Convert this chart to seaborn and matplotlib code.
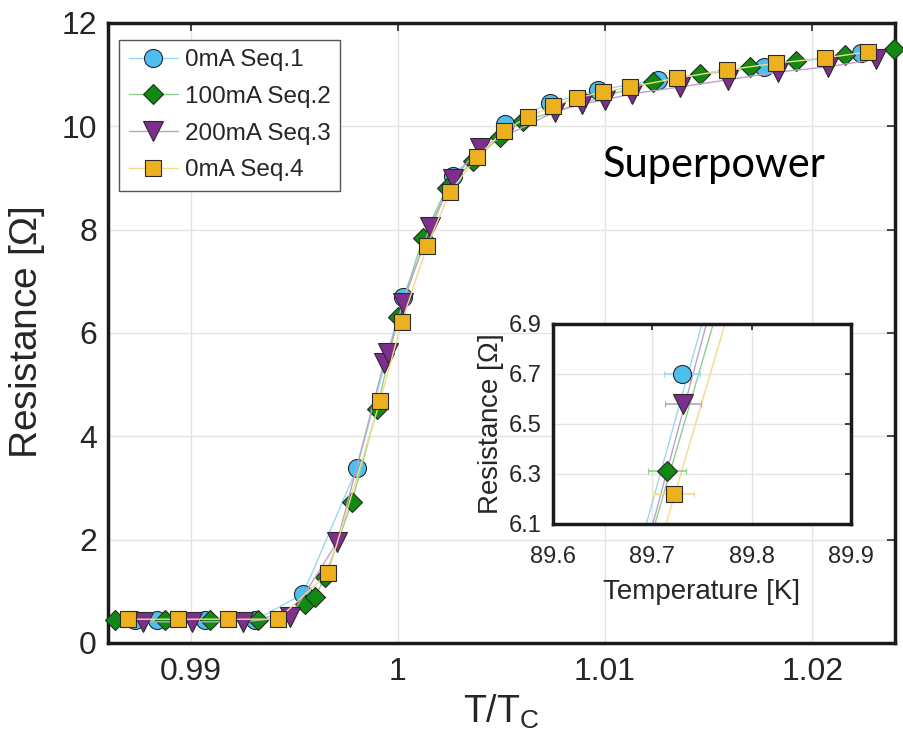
import numpy as np
import pandas as pd
import matplotlib
matplotlib.use('Agg')
import matplotlib.pyplot as plt
import seaborn as sns

# main panel: normalised temperature T/Tc and resistance (Ohm)
t_seq1 = [0.98731, 0.98838, 0.99069, 0.99310, 0.99542, 0.99802, 1.00024, 1.00265,
          1.00516, 1.00733, 1.00965, 1.01254, 1.01765, 1.02238]
r_seq1 = [0.44, 0.44, 0.44, 0.44, 0.95, 3.39, 6.70, 9.04,
          10.04, 10.45, 10.70, 10.90, 11.15, 11.42]

t_seq2 = [0.98635, 0.98876, 0.99093, 0.99325, 0.99551, 0.99600, 0.99648, 0.99778,
          0.99899, 1.00000, 1.00121, 1.00236, 1.00362, 1.00492, 1.00603, 1.01230,
          1.01457, 1.01698, 1.01924, 1.02156, 1.02397]
r_seq2 = [0.44, 0.44, 0.44, 0.44, 0.75, 0.89, 1.28, 2.73,
          4.53, 6.31, 7.84, 8.81, 9.33, 9.79, 10.10, 10.86,
          11.01, 11.15, 11.26, 11.38, 11.50]

t_seq3 = [0.98770, 0.99006, 0.99252, 0.99479, 0.99706, 0.99932, 0.99952, 1.00024,
          1.00154, 1.00265, 1.00396, 1.00757, 1.00887, 1.00998, 1.01129, 1.01360,
          1.01592, 1.01833, 1.02074, 1.02310]
r_seq3 = [0.41, 0.41, 0.41, 0.50, 1.95, 5.42, 5.61, 6.58,
          8.05, 8.98, 9.58, 10.28, 10.43, 10.51, 10.63, 10.76,
          10.90, 11.05, 11.15, 11.30]

t_seq4 = [0.98698, 0.98939, 0.99180, 0.99421, 0.99662, 0.99913, 1.00019, 1.00140,
          1.00251, 1.00381, 1.00511, 1.00627, 1.00748, 1.00863, 1.00989, 1.01119,
          1.01346, 1.01587, 1.01823, 1.02060, 1.02267]
r_seq4 = [0.46, 0.46, 0.46, 0.46, 1.35, 4.68, 6.22, 7.68,
          8.73, 9.41, 9.91, 10.18, 10.39, 10.55, 10.66, 10.76,
          10.93, 11.09, 11.22, 11.32, 11.44]

labels = ['0mA Seq.1', '100mA Seq.2', '200mA Seq.3', '0mA Seq.4']
colors = ['#4DBEEE', '#108a10', '#7E2F8E', '#EDB120']
line_colors = ['#9ad8f2', '#8fcf8f', '#c0a0c8', '#f3d98a']
markers = ['o', 'D', 'v', 's']
msizes = [13, 10, 14, 11]

# inset: absolute temperature (K) around R ~ 6.5 Ohm
inset_t = [89.730, 89.715, 89.731, 89.722]
inset_r = [6.70, 6.31, 6.58, 6.22]
inset_terr = [0.018, 0.019, 0.018, 0.020]
# neighbouring segment of each curve crossing the inset window
seg_t_seq1 = [89.680, 89.764]
seg_r_seq1 = [5.90, 7.10]
seg_t_seq2 = [89.688, 89.776]
seg_r_seq2 = [5.90, 7.10]
seg_t_seq3 = [89.687, 89.768]
seg_r_seq3 = [5.90, 7.10]
seg_t_seq4 = [89.699, 89.788]
seg_r_seq4 = [5.90, 7.10]

series = [(t_seq1, r_seq1), (t_seq2, r_seq2), (t_seq3, r_seq3), (t_seq4, r_seq4)]
segments = [(seg_t_seq1, seg_r_seq1), (seg_t_seq2, seg_r_seq2),
            (seg_t_seq3, seg_r_seq3), (seg_t_seq4, seg_r_seq4)]

df = pd.concat([pd.DataFrame({'T': t, 'R': r, 'seq': lab})
                for (t, r), lab in zip(series, labels)], ignore_index=True)

sns.set_theme(style='white')
plt.rcParams['font.family'] = ['Liberation Sans', 'DejaVu Sans']
plt.rcParams['mathtext.fontset'] = 'custom'
plt.rcParams['mathtext.rm'] = 'Liberation Sans'
text_color = '#262626'

fig = plt.figure(figsize=(9.04, 7.56), dpi=100)
ax = fig.add_axes([0.1195, 0.1495, 0.8706, 0.8201])

for i, lab in enumerate(labels):
    sub = df[df['seq'] == lab]
    sns.lineplot(data=sub, x='T', y='R', ax=ax, sort=False, color=line_colors[i],
                 linewidth=1.0, marker=markers[i], markersize=msizes[i],
                 markerfacecolor=colors[i], markeredgecolor='#2a2a2a',
                 markeredgewidth=0.8, label=lab, clip_on=False, zorder=3 + i)

ax.set_xlim(0.986, 1.024)
ax.set_ylim(0, 12)
ax.set_xticks([0.99, 1.0, 1.01, 1.02])
ax.set_xticklabels(['0.99', '1', '1.01', '1.02'])
ax.set_yticks([0, 2, 4, 6, 8, 10, 12])
ax.grid(True, color='#e3e3e3', linewidth=1.0)
ax.tick_params(direction='in', length=6, width=1.2, top=True, right=True,
               labelsize=23, labelcolor=text_color)
ax.tick_params(axis='x', pad=10)
ax.tick_params(axis='y', pad=8)
for s in ax.spines.values():
    s.set_linewidth(2.5)
    s.set_color('#1a1a1a')
ax.set_xlabel('T/T$_\\mathregular{C}$', fontsize=27, color=text_color, labelpad=4)
ax.set_ylabel('Resistance [$\\Omega$]', fontsize=28, color=text_color, labelpad=10)

leg = ax.legend(loc='upper left', bbox_to_anchor=(0.005, 0.985), fontsize=17.5,
                frameon=True, fancybox=False, edgecolor='#555555', framealpha=1,
                handlelength=2.0, labelspacing=0.6, borderpad=0.4, handletextpad=0.3,
                borderaxespad=0.3)
leg.get_frame().set_linewidth(1.0)
for txt in leg.get_texts():
    txt.set_color(text_color)

ax.text(0.629, 0.771, 'Superpower', transform=ax.transAxes, fontsize=30,
        family=['Lato', 'DejaVu Sans'], color='black', va='center')

# inset
axin = fig.add_axes([0.6117, 0.3069, 0.3296, 0.2646])
for i in range(4):
    st, sr = segments[i]
    sns.lineplot(x=st, y=sr, ax=axin, color=line_colors[i], linewidth=1.0,
                 sort=False, zorder=2)
for i in range(4):
    axin.errorbar(inset_t[i], inset_r[i], xerr=inset_terr[i], fmt=markers[i],
                  markersize=msizes[i], markerfacecolor=colors[i],
                  markeredgecolor='#2a2a2a', markeredgewidth=0.8,
                  ecolor=line_colors[i], elinewidth=1.2, capsize=2, zorder=4)
axin.set_xlim(89.6, 89.9)
axin.set_ylim(6.1, 6.9)
axin.set_xticks([89.6, 89.7, 89.8, 89.9])
axin.set_yticks([6.1, 6.3, 6.5, 6.7, 6.9])
axin.grid(True, color='#e3e3e3', linewidth=1.0)
axin.tick_params(direction='in', length=4, top=True, right=True,
                 labelsize=17, labelcolor=text_color)
axin.tick_params(axis='x', pad=16)
axin.tick_params(axis='y', pad=8)
for s in axin.spines.values():
    s.set_linewidth(2.5)
    s.set_color('#1a1a1a')
axin.set_xlabel('Temperature [K]', fontsize=20, color=text_color, labelpad=8)
axin.set_ylabel('Resistance [$\\Omega$]', fontsize=20, color=text_color, labelpad=2)

fig.savefig('out.png', dpi=100)
